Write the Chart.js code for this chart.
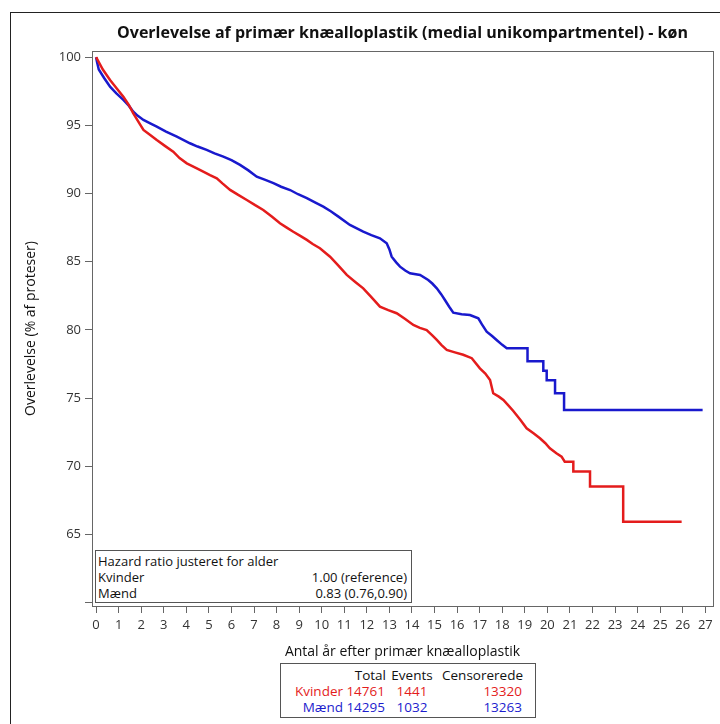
<!DOCTYPE html>
<html><head><meta charset="utf-8">
<script src="https://cdn.jsdelivr.net/npm/chart.js@4/dist/chart.umd.min.js"></script>
<style>
html,body{margin:0;padding:0;background:#fff;}
#wrap{position:relative;width:720px;height:724px;overflow:hidden;font-family:"Open Sans",sans-serif;color:#111;}
#frame{position:absolute;left:10px;top:12px;width:740px;height:740px;border-left:1px solid #222;border-top:1px solid #222;}
canvas{position:absolute;left:0;top:0;}
#title{position:absolute;top:21px;left:92px;width:621px;text-align:center;font-weight:bold;font-size:16px;line-height:22px;white-space:nowrap;}
.box{position:absolute;border:1px solid #555;background:#fff;}
.t{position:absolute;white-space:nowrap;line-height:16px;}
.r{text-align:right;}
.c{text-align:center;}
.red{color:rgb(228,28,28);}
.blue{color:rgb(28,28,205);}
</style>
</head><body>
<div id="wrap">
  <div id="frame"></div>
  <canvas id="c" width="720" height="724"></canvas>
  <div id="title">Overlevelse af primær knæalloplastik (medial unikompartmentel) - køn</div>
  <div id="hr" class="box" style="left:95px;top:550px;width:315px;height:51px;font-size:13px;">
    <div class="t" style="left:2px;top:2px;">Hazard ratio justeret for alder</div>
    <div class="t" style="left:2px;top:18px;">Kvinder</div>
    <div class="t r" style="right:4px;top:18px;">1.00 (reference)</div>
    <div class="t" style="left:2px;top:34px;">Mænd</div>
    <div class="t r" style="right:4px;top:34px;">0.83 (0.76,0.90)</div>
  </div>
  <div id="tbl" class="box" style="left:280px;top:663px;width:254px;height:53px;font-size:13.5px;">
    <div class="t r" style="left:0;width:105px;top:3px;">Total</div>
    <div class="t c" style="left:105px;width:52px;top:3px;">Events</div>
    <div class="t r" style="left:150px;width:92px;top:3px;">Censorerede</div>
    <div class="t r red" style="left:0;width:62px;top:19px;">Kvinder</div>
    <div class="t r red" style="left:0;width:104px;top:19px;">14761</div>
    <div class="t c red" style="left:105px;width:52px;top:19px;">1441</div>
    <div class="t r red" style="left:150px;width:91px;top:19px;">13320</div>
    <div class="t r blue" style="left:0;width:62px;top:35px;">Mænd</div>
    <div class="t r blue" style="left:0;width:104px;top:35px;">14295</div>
    <div class="t c blue" style="left:105px;width:52px;top:35px;">1032</div>
    <div class="t r blue" style="left:150px;width:91px;top:35px;">13263</div>
  </div>
</div>
<script>
// ---- data ----
const xTickYears = [0,1,2,3,4,5,6,7,8,9,10,11,12,13,14,15,16,17,18,19,20,21,22,23,24,25,26,27];
const yTickValues = [60,65,70,75,80,85,90,95,100];

const kvinderTid = [0,0.03,0.3,0.62,0.9,1.21,1.45,1.65,1.9,2.10,2.4,2.69,3.05,3.42,3.7,4.02,4.4,4.75,5.05,5.35,5.6,5.94,6.3,6.68,7.05,7.41,7.8,8.15,8.45,8.74,9.05,9.34,9.6,9.92,10.37,10.75,11.11,11.5,11.84,12.2,12.58,12.95,13.32,13.7,14.06,14.35,14.65,14.9,15.10,15.3,15.54,15.9,16.27,16.65,17.01,17.25,17.46,17.60,17.85,18.05,18.25,18.49,18.8,19.08,19.4,19.67,19.9,20.11,20.4,20.63,20.77,21.15,21.15,21.89,21.89,23.36,23.36,25.95];
const kvinderOverlevelse = [100,99.93,99.1,98.33,97.75,97.11,96.5,95.89,95.2,94.67,94.3,93.93,93.5,93.07,92.6,92.22,91.9,91.61,91.35,91.12,90.75,90.27,89.9,89.53,89.15,88.80,88.3,87.82,87.5,87.20,86.9,86.60,86.3,85.99,85.37,84.7,84.03,83.5,83.05,82.4,81.70,81.45,81.22,80.8,80.36,80.15,79.99,79.6,79.26,78.9,78.53,78.35,78.17,77.92,77.18,76.8,76.32,75.35,75.1,74.86,74.5,74.05,73.4,72.78,72.4,72.05,71.7,71.31,70.95,70.70,70.33,70.33,69.60,69.60,68.50,68.50,65.93,65.93];

const maendTid = [0,0.05,0.12,0.35,0.62,0.9,1.21,1.45,1.65,1.85,2.10,2.4,2.69,3.1,3.58,4.16,4.5,4.90,5.25,5.64,6.0,6.38,6.75,7.12,7.5,7.86,8.2,8.60,8.95,9.34,9.7,10.07,10.4,10.74,11.25,11.84,12.2,12.58,12.88,13.0,13.10,13.30,13.47,13.7,13.91,14.36,14.72,14.9,15.10,15.3,15.46,15.65,15.83,16.2,16.57,16.94,17.1,17.31,17.55,17.75,18.0,18.20,19.12,19.12,19.82,19.82,19.97,19.97,20.34,20.34,20.74,20.74,26.88];
const maendOverlevelse = [100,99.6,99.1,98.5,97.84,97.35,96.87,96.45,96.01,95.7,95.40,95.15,94.91,94.55,94.17,93.69,93.45,93.20,92.95,92.71,92.45,92.10,91.7,91.24,91.0,90.76,90.5,90.26,89.95,89.66,89.35,89.04,88.7,88.31,87.70,87.20,86.95,86.72,86.35,85.9,85.37,84.95,84.64,84.35,84.15,84.03,83.66,83.4,83.05,82.6,82.19,81.7,81.26,81.15,81.09,80.85,80.4,79.87,79.55,79.26,78.9,78.65,78.65,77.70,77.70,77.0,77.0,76.30,76.30,75.35,75.35,74.12,74.12];

const serieNavne = ['Kvinder','Mænd'];
const serieFarver = ['rgb(228,28,28)','rgb(25,25,205)'];

// ---- chart ----
Chart.defaults.font.family = '"Open Sans", sans-serif';
const toPoints = (xs, ys) => xs.map((t, i) => ({x: t, y: ys[i]}));

const plotFrame = {
  id: 'plotFrame',
  afterDraw(chart) {
    const {ctx, chartArea: a} = chart;
    ctx.save();
    ctx.strokeStyle = '#666';
    ctx.lineWidth = 1;
    ctx.strokeRect(Math.round(a.left) + 0.5, Math.round(a.top) + 0.5, Math.round(a.right - a.left), Math.round(a.bottom - a.top));
    ctx.restore();
  }
};

new Chart(document.getElementById('c'), {
  type: 'line',
  data: {
    datasets: [
      {label: serieNavne[0], data: toPoints(kvinderTid, kvinderOverlevelse), borderColor: serieFarver[0], borderWidth: 2.5, pointRadius: 0, fill: false, tension: 0},
      {label: serieNavne[1], data: toPoints(maendTid, maendOverlevelse), borderColor: serieFarver[1], borderWidth: 2.5, pointRadius: 0, fill: false, tension: 0}
    ]
  },
  options: {
    responsive: false,
    animation: false,
    layout: {padding: {left: 0, top: 51, right: 7, bottom: 0}},
    plugins: {legend: {display: false}, tooltip: {enabled: false}, title: {display: false}},
    scales: {
      x: {
        type: 'linear', min: -0.18, max: 27.34,
        afterBuildTicks: s => { s.ticks = xTickYears.map(v => ({value: v})); },
        afterFit: s => { s.height = 118; },
        ticks: {autoSkip: false, maxRotation: 0, padding: 4, color: '#333', font: {size: 13}},
        grid: {drawOnChartArea: false, tickLength: 7, color: '#666'},
        border: {color: '#666'},
        title: {display: true, text: 'Antal år efter primær knæalloplastik', color: '#111', font: {size: 14}, padding: {top: 0, bottom: 64}}
      },
      y: {
        type: 'linear', min: 59.74, max: 100.46,
        afterBuildTicks: s => { s.ticks = yTickValues.map(v => ({value: v})); },
        afterFit: s => { s.width = 92; },
        ticks: {autoSkip: false, padding: 4, color: '#333', font: {size: 13}, callback: v => (v === 60 ? '' : String(v))},
        grid: {drawOnChartArea: false, tickLength: 7, color: '#666'},
        border: {color: '#666'},
        title: {display: true, text: 'Overlevelse (% af proteser)', color: '#111', font: {size: 14}, padding: {top: 23, bottom: 0}}
      }
    }
  },
  plugins: [plotFrame]
});
</script>
</body></html>
